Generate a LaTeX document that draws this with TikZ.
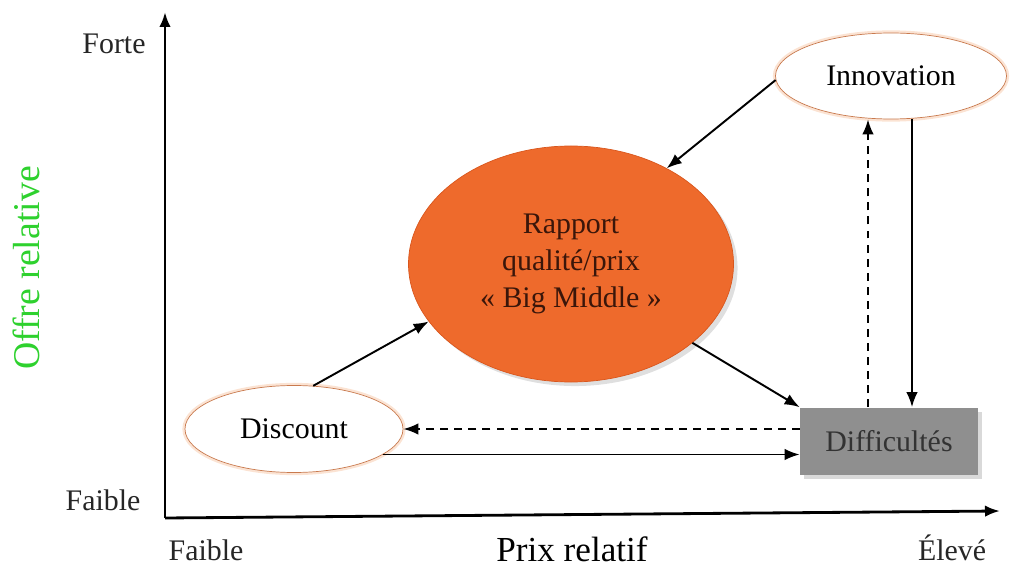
\documentclass[tikz,border=0pt]{standalone}
\usepackage{fontspec}
\setmainfont{Liberation Serif}
\usetikzlibrary{calc,arrows.meta,shapes.geometric,shadows}
\definecolor{flame}{HTML}{EE6A2C}
\definecolor{ember}{HTML}{D9561C}
\definecolor{rim}{HTML}{C97A4E}
\definecolor{glow}{HTML}{FBE3D3}
\definecolor{ash}{HTML}{8F8F8F}
\definecolor{cocoa}{HTML}{3A160A}
\definecolor{lime}{HTML}{2ED12E}
\tikzset{
  bubble/.style={ellipse,draw=rim,thin,fill=white,inner sep=0pt,
    preaction={draw=glow,line width=3pt}},
  link/.style={->,line width=1.1pt},
  hint/.style={->,line width=1.1pt,dash pattern=on 4.5pt off 3.5pt}
}
\begin{document}
\begin{tikzpicture}[x=0.2mm,y=-0.2mm,font=\fontsize{17}{20}\selectfont,
  >={Latex[length=3mm,width=2.3mm]}]
\useasboundingbox (0,0) rectangle (1011,568);
% axes
\coordinate (o) at (165,518);
\draw[->,line width=1.6pt] (o) -- (165,12);
\draw[->,line width=1.6pt] (o) -- (1000,511);
\node[text=black!85] (forte) at (114,44) {Forte};
\node[text=black!85] (fy) at (103,500) {Faible};
\node[text=black!85] (fx) at (206,550) {Faible};
\node[text=black!85] (elev) at (952,548) {Élevé};
\node[font=\fontsize{20}{22}\selectfont] (prix) at (572,549) {Prix relatif};
\node[rotate=90,text=lime,font=\fontsize{21.5}{24}\selectfont] (offre) at (26,268) {Offre relative};
% nodes
\node[ellipse,fill=flame,draw=ember,thin,minimum width=65mm,minimum height=47.2mm,
  drop shadow={opacity=0.25},text=cocoa,align=center,
  font=\fontsize{17}{21}\selectfont] (big) at (571,264)
  {Rapport\\qualité/prix\\«~Big Middle~»};
\node[bubble,minimum width=43.6mm,minimum height=17.4mm] (disc) at (294,429) {Discount};
\node[bubble,minimum width=46.2mm,minimum height=17.2mm] (innov) at (891,76) {Innovation};
\node[rectangle,fill=ash,minimum width=35.6mm,minimum height=13.4mm,
  drop shadow={opacity=0.3},text=black!80] (diff) at (889,441) {Difficultés};
\coordinate (up) at ($(diff.north)+(-21,0)$);
\coordinate (dn) at ($(diff.north)+(23,0)$);
% links
\draw[link] (innov.182) -- (big.45);
\draw[link] (disc.66) -- (big.202);
\draw[link] (big.327) -- (diff.north west);
\draw[hint] (diff.west |- disc.east) -- (disc.east);
\draw[link] (disc.-16) -- (disc.-16 -| diff.west);
\draw[hint] (up) -- (up |- innov.south);
\draw[link] (innov.south -| dn) -- (dn);
\end{tikzpicture}
\end{document}
